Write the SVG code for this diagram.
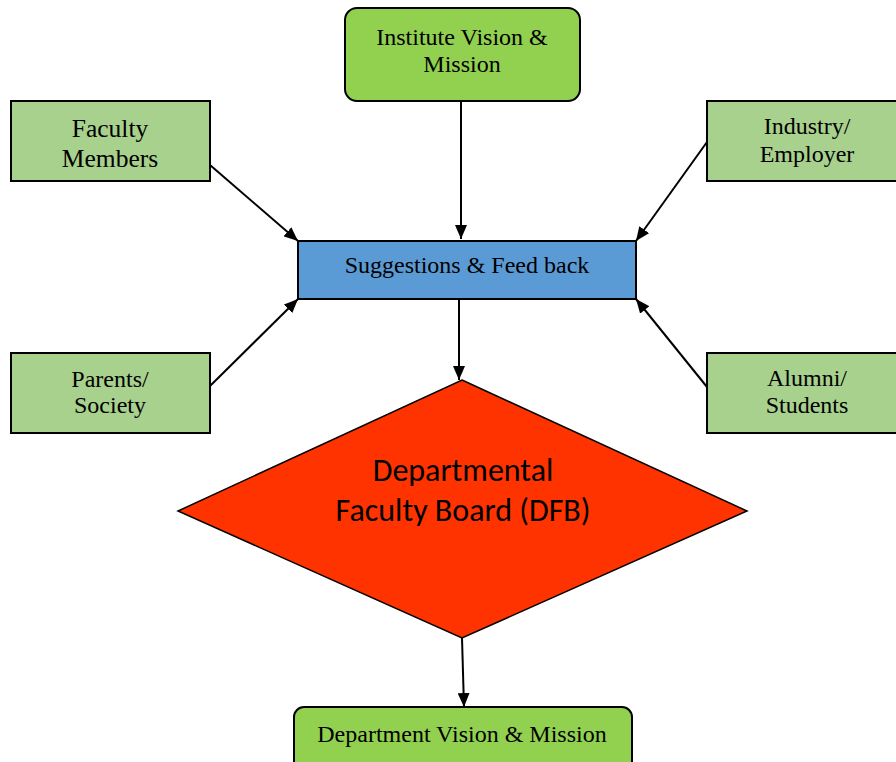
<svg xmlns="http://www.w3.org/2000/svg" width="896" height="762" viewBox="0 0 896 762">
<defs>
<marker id="arr" markerWidth="14" markerHeight="12" refX="14" refY="6" orient="auto" markerUnits="userSpaceOnUse">
<path d="M0,0 L14,6 L0,12 Z" fill="#000"/>
</marker>
<style>
.lbl{font-family:"Liberation Serif","Times New Roman",serif;fill:#000;text-anchor:middle;font-size:24px}
.box{fill:#a9d18e;stroke:#000;stroke-width:2}
.gbox{fill:#92d050;stroke:#000;stroke-width:2}
.con line{stroke:#000;stroke-width:2;marker-end:url(#arr)}
.dfb{font-family:Carlito,Calibri,"Liberation Sans",Arial,sans-serif;font-size:32px;fill:#000;text-anchor:middle}
</style>
</defs>
<rect width="896" height="762" fill="#fff"/>
<g class="con" id="connectors">
<line x1="461" y1="102" x2="461" y2="239"/>
<line x1="210" y1="165" x2="298" y2="241"/>
<line x1="707" y1="142" x2="636" y2="241"/>
<line x1="210" y1="386" x2="298" y2="299"/>
<line x1="707" y1="387" x2="636" y2="299"/>
<line x1="459" y1="299" x2="459" y2="380"/>
<line x1="462" y1="638" x2="464" y2="707"/>
</g>
<g id="institute">
<rect class="gbox" x="345" y="8" width="235" height="93" rx="12"/>
<text class="lbl" x="462" y="45">Institute Vision &amp;</text>
<text class="lbl" x="462" y="72">Mission</text>
</g>
<g id="faculty">
<rect class="box" x="11" y="101" width="199" height="80"/>
<text class="lbl" x="110" y="137" style="font-size:25.5px">Faculty</text>
<text class="lbl" x="110" y="167" style="font-size:25.5px">Members</text>
</g>
<g id="industry">
<rect class="box" x="707" y="101" width="191" height="80"/>
<text class="lbl" x="807" y="134">Industry/</text>
<text class="lbl" x="807" y="162">Employer</text>
</g>
<g id="suggestions">
<rect x="298" y="241" width="338" height="58" fill="#5b9bd5" stroke="#000" stroke-width="2"/>
<text class="lbl" x="467" y="273">Suggestions &amp; Feed back</text>
</g>
<g id="parents">
<rect class="box" x="11" y="353" width="199" height="80"/>
<text class="lbl" x="110" y="387">Parents/</text>
<text class="lbl" x="110" y="413">Society</text>
</g>
<g id="alumni">
<rect class="box" x="707" y="353" width="191" height="80"/>
<text class="lbl" x="807" y="386">Alumni/</text>
<text class="lbl" x="807" y="413">Students</text>
</g>
<g id="dfb">
<polygon points="462,380 747,511 462,638 178,511" fill="#ff3300" stroke="#000" stroke-width="1.5"/>
<text class="dfb" x="463" y="481">Departmental</text>
<text class="dfb" x="463" y="521">Faculty Board (DFB)</text>
</g>
<g id="department">
<rect class="gbox" x="294" y="707" width="338" height="65" rx="10"/>
<text class="lbl" x="462" y="742">Department Vision &amp; Mission</text>
</g>
</svg>
